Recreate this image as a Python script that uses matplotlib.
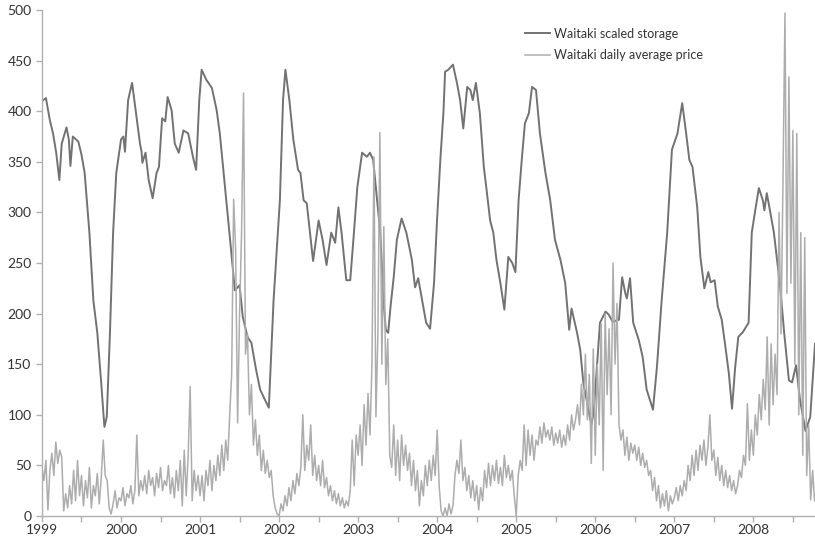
import numpy as np
import matplotlib
matplotlib.use("Agg")
import matplotlib.pyplot as plt
from matplotlib.ticker import MultipleLocator

plt.rcParams['font.family'] = ['Lato', 'DejaVu Sans']

# storage readings (decimal year, scaled storage)
storage_years = [
    1999.00, 1999.05, 1999.10, 1999.14, 1999.18, 1999.22, 1999.25, 1999.31, 1999.34, 1999.36,
    1999.39, 1999.46, 1999.50, 1999.54, 1999.60, 1999.65, 1999.70, 1999.75, 1999.79, 1999.82,
    1999.86, 1999.90, 1999.94, 2000.00, 2000.03, 2000.05, 2000.09, 2000.14, 2000.18, 2000.24,
    2000.26, 2000.27, 2000.31, 2000.35, 2000.40, 2000.45, 2000.48, 2000.52, 2000.56, 2000.59,
    2000.64, 2000.68, 2000.73, 2000.79, 2000.85, 2000.91, 2000.95, 2000.99, 2001.02, 2001.08,
    2001.15, 2001.21, 2001.25, 2001.32, 2001.38, 2001.44, 2001.50, 2001.54, 2001.60, 2001.65,
    2001.71, 2001.76, 2001.82, 2001.87, 2001.93, 2001.97, 2002.01, 2002.05, 2002.08, 2002.13,
    2002.18, 2002.24, 2002.27, 2002.31, 2002.35, 2002.39, 2002.43, 2002.50, 2002.55, 2002.60,
    2002.66, 2002.71, 2002.75, 2002.79, 2002.85, 2002.90, 2002.94, 2002.99, 2003.05, 2003.11,
    2003.15, 2003.19, 2003.24, 2003.28, 2003.32, 2003.35, 2003.38, 2003.41, 2003.45, 2003.49,
    2003.55, 2003.61, 2003.68, 2003.72, 2003.76, 2003.81, 2003.86, 2003.91, 2003.96, 2004.00,
    2004.04, 2004.08, 2004.10, 2004.14, 2004.20, 2004.25, 2004.29, 2004.33, 2004.38, 2004.42,
    2004.45, 2004.49, 2004.54, 2004.59, 2004.63, 2004.67, 2004.71, 2004.75, 2004.80, 2004.85,
    2004.90, 2004.95, 2004.99, 2005.03, 2005.07, 2005.11, 2005.16, 2005.20, 2005.25, 2005.30,
    2005.37, 2005.43, 2005.49, 2005.56, 2005.62, 2005.67, 2005.70, 2005.77, 2005.81, 2005.85,
    2005.89, 2005.95, 2005.98, 2006.02, 2006.06, 2006.13, 2006.17, 2006.22, 2006.30, 2006.34,
    2006.38, 2006.40, 2006.44, 2006.48, 2006.55, 2006.60, 2006.65, 2006.69, 2006.73, 2006.78,
    2006.84, 2006.91, 2006.97, 2007.04, 2007.10, 2007.15, 2007.19, 2007.23, 2007.29, 2007.33,
    2007.38, 2007.43, 2007.46, 2007.51, 2007.55, 2007.60, 2007.64, 2007.69, 2007.73, 2007.77,
    2007.81, 2007.87, 2007.94, 2007.98, 2008.03, 2008.07, 2008.12, 2008.14, 2008.17, 2008.21,
    2008.26, 2008.30, 2008.34, 2008.39, 2008.45, 2008.49, 2008.54, 2008.59, 2008.66, 2008.72,
    2008.78,
]
storage_vals = [
    410, 413, 391, 378, 359, 332, 368, 384, 372, 346,
    375, 370, 357, 339, 280, 213, 181, 131, 88, 98,
    181, 280, 339, 372, 375, 360, 411, 428, 404, 368,
    360, 349, 359, 332, 314, 339, 345, 393, 390, 414,
    401, 368, 359, 381, 378, 355, 342, 411, 441, 431,
    423, 401, 378, 322, 273, 223, 228, 197, 177, 171,
    144, 125, 115, 107, 213, 263, 312, 411, 441, 411,
    372, 342, 339, 312, 309, 280, 252, 292, 273, 248,
    280, 270, 305, 280, 233, 233, 273, 325, 359, 355,
    359, 352, 312, 280, 213, 184, 181, 207, 236, 273,
    294, 280, 253, 226, 235, 213, 191, 185, 230, 295,
    352, 400, 439, 441, 446, 428, 411, 383, 424, 421,
    411, 428, 398, 345, 319, 292, 280, 253, 230, 204,
    256, 250, 241, 312, 352, 388, 398, 424, 421, 378,
    339, 312, 273, 253, 230, 184, 205, 181, 164, 131,
    115, 90, 102, 147, 191, 202, 199, 192, 194, 236,
    220, 215, 235, 191, 174, 157, 125, 115, 105, 147,
    213, 280, 362, 378, 408, 378, 352, 345, 305, 256,
    225, 241, 231, 233, 207, 194, 171, 141, 106, 147,
    177, 182, 191, 280, 305, 324, 312, 302, 319, 302,
    280, 253, 226, 181, 134, 132, 149, 115, 84, 98,
    170,
]

# daily average price, sampled 40 times a year
price_1999 = [48, 35, 55, 6, 45, 62, 40, 73, 52, 65, 58, 5, 22, 8, 30, 12, 45, 15, 55, 20,
              40, 10, 35, 18, 48, 8, 30, 20, 42, 12, 38, 75, 40, 35, 8, 2, 12, 25, 8, 18]
price_2000 = [15, 28, 10, 22, 18, 30, 12, 25, 80, 20, 35, 25, 40, 22, 45, 30, 38, 20, 42, 28,
              48, 25, 35, 30, 50, 22, 38, 18, 45, 25, 55, 10, 65, 20, 60, 128, 15, 45, 25, 40]
price_2001 = [20, 40, 15, 45, 30, 55, 25, 50, 35, 60, 40, 70, 45, 75, 55, 100, 140, 313, 263, 92,
              200, 280, 418, 160, 180, 100, 130, 70, 95, 60, 80, 45, 65, 42, 55, 38, 45, 20, 8, 2]
price_2002 = [0, 12, 5, 20, 10, 28, 15, 35, 22, 42, 30, 48, 100, 45, 70, 55, 90, 40, 60, 35,
              50, 30, 55, 28, 38, 20, 30, 15, 25, 12, 22, 10, 18, 8, 15, 10, 25, 75, 30, 80]
price_2003 = [60, 90, 50, 110, 70, 121, 80, 150, 355, 98, 180, 379, 150, 286, 130, 175, 60, 48, 90, 40,
              75, 35, 80, 50, 70, 45, 62, 30, 55, 25, 45, 10, 35, 20, 50, 30, 55, 35, 60, 40]
price_2004 = [85, 30, 5, 0, 8, 0, 12, 2, 10, 40, 55, 42, 75, 35, 48, 25, 40, 18, 35, 15,
              30, 6, 28, 15, 45, 28, 52, 30, 50, 35, 55, 32, 48, 30, 60, 38, 50, 35, 45, 20]
price_2005 = [0, 40, 55, 45, 90, 50, 85, 60, 80, 55, 75, 70, 88, 72, 92, 78, 85, 75, 88, 70,
              82, 72, 85, 68, 80, 70, 90, 75, 100, 85, 95, 110, 90, 130, 100, 160, 95, 140, 52, 165]
price_2006 = [60, 150, 90, 190, 45, 200, 120, 185, 100, 250, 150, 210, 90, 75, 85, 60, 78, 55, 72, 62,
              70, 55, 68, 50, 62, 48, 55, 40, 45, 25, 38, 15, 30, 8, 22, 10, 25, 5, 20, 12]
price_2007 = [18, 28, 15, 30, 20, 35, 25, 50, 35, 60, 40, 65, 45, 70, 55, 75, 50, 68, 100, 55,
              65, 40, 58, 35, 50, 30, 45, 28, 40, 25, 35, 22, 30, 45, 38, 60, 50, 111, 55, 85]
price_2008 = [60, 100, 80, 120, 95, 135, 105, 177, 90, 170, 110, 160, 120, 300, 180, 332, 497, 220, 434, 230,
              381, 150, 378, 100, 280, 60, 275, 40, 90, 16, 45, 15]

price_vals = (price_1999 + price_2000 + price_2001 + price_2002 + price_2003 +
              price_2004 + price_2005 + price_2006 + price_2007 + price_2008)
price_years = 1999 + np.arange(len(price_vals)) / 40.0

year_ticks = list(range(1999, 2009))

fig = plt.figure(figsize=(8.15, 5.42), dpi=100)
ax = fig.add_axes([0.0515, 0.048, 0.9485, 0.9335])

ax.plot(storage_years, storage_vals, color='#727272', lw=1.4, label='Waitaki scaled storage', zorder=2)
ax.plot(price_years, price_vals, color='#adadad', lw=1.1, label='Waitaki daily average price', zorder=3)

ax.set_xlim(1999, 2008.78)
ax.set_ylim(0, 500)
ax.set_xticks(year_ticks)
ax.set_xticklabels([str(y) for y in year_ticks])
ax.xaxis.set_minor_locator(MultipleLocator(0.5))
ax.set_yticks(range(0, 501, 50))

for s in ['top', 'right']:
    ax.spines[s].set_visible(False)
for s in ['left', 'bottom']:
    ax.spines[s].set_color('#b0b0b0')
    ax.spines[s].set_linewidth(1.0)

ax.tick_params(axis='both', which='both', colors='#b0b0b0', labelcolor='#333333',
               labelsize=10, length=4, width=1)
ax.tick_params(axis='x', pad=2)

leg = ax.legend(loc='upper left', bbox_to_anchor=(0.618, 0.975), frameon=False,
                fontsize=9, handlelength=2.0, handletextpad=0.35, labelspacing=0.75,
                borderaxespad=0)
for t in leg.get_texts():
    t.set_color('#333333')

fig.savefig('out.png', dpi=100)
